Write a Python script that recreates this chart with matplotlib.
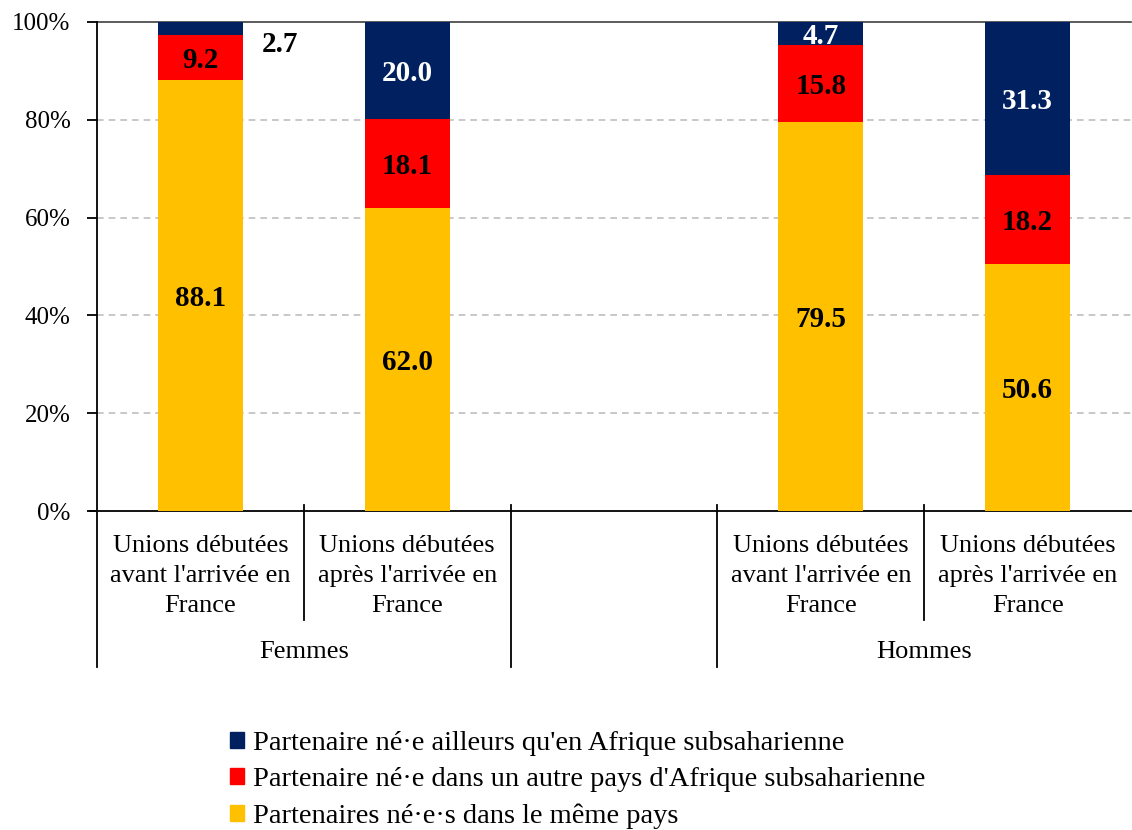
import matplotlib
matplotlib.use("Agg")
import matplotlib.pyplot as plt
from matplotlib.patches import Patch
import matplotlib.transforms as mtransforms

plt.rcParams['font.family'] = ['Liberation Serif', 'DejaVu Serif']

categories = ["Unions débutées\navant l'arrivée en\nFrance",
              "Unions débutées\naprès l'arrivée en\nFrance",
              "",
              "Unions débutées\navant l'arrivée en\nFrance",
              "Unions débutées\naprès l'arrivée en\nFrance"]
groups = ["Femmes", "Hommes"]
same_country = [88.1, 62.0, None, 79.5, 50.6]
other_africa = [9.2, 18.1, None, 15.8, 18.2]
elsewhere = [2.7, 20.0, None, 4.7, 31.3]
series_names = ["Partenaire né·e ailleurs qu'en Afrique subsaharienne",
                "Partenaire né·e dans un autre pays d'Afrique subsaharienne",
                "Partenaires né·e·s dans le même pays"]
yticks = [0, 20, 40, 60, 80, 100]

c_yellow = "#FFC000"
c_red = "#FF0000"
c_navy = "#002060"

W, H = 1132, 830
fig = plt.figure(figsize=(W / 100, H / 100), dpi=100)
ax = fig.add_axes([97 / W, (H - 511) / H, (1131 - 97) / W, (511 - 22) / H])

bw = 0.41
lab_fs = 21
va = 'center_baseline'
for i in range(len(categories)):
    if same_country[i] is None:
        continue
    a, b, c = same_country[i], other_africa[i], elsewhere[i]
    ax.bar(i, a, bw, color=c_yellow, zorder=3)
    ax.bar(i, b, bw, bottom=a, color=c_red, zorder=3)
    ax.bar(i, c, bw, bottom=a + b, color=c_navy, zorder=3)
    ax.text(i, a / 2, f"{a:.1f}", ha='center', va=va, fontsize=lab_fs,
            fontweight='bold', color='black', zorder=4)
    ax.text(i, a + b / 2, f"{b:.1f}", ha='center', va=va, fontsize=lab_fs,
            fontweight='bold', color='black', zorder=4)
    if c < 4:
        ax.text(i + 0.385, 96.0, f"{c:.1f}", ha='center', va=va, fontsize=lab_fs,
                fontweight='bold', color='black', zorder=4)
    else:
        ax.text(i, a + b + c / 2, f"{c:.1f}", ha='center', va=va, fontsize=lab_fs,
                fontweight='bold', color='white', zorder=4)

ax.set_xlim(-0.5, len(categories) - 0.5)
ax.set_ylim(0, 100)
ax.set_yticks(yticks)
ax.set_yticklabels([f"{t}%" for t in yticks], fontsize=18)
for t in yticks[1:-1]:
    ax.axhline(t, color='#BFBFBF', lw=1.2, ls=(0, (4, 3)), zorder=1)
ax.axhline(100, color='#404040', lw=1.2, zorder=2, clip_on=False)

for s in ['top', 'right']:
    ax.spines[s].set_visible(False)
ax.spines['left'].set_linewidth(1.3)
ax.spines['bottom'].set_linewidth(1.3)
ax.tick_params(axis='y', direction='out', length=7, width=1.3, pad=12)
ax.set_xticks([])

trans = mtransforms.blended_transform_factory(ax.transData, ax.transAxes)
ax_h = 511 - 22
def ay(px):
    return (511 - px) / ax_h

# separators
ax.plot([-0.5, -0.5], [ay(511), ay(667)], color='black', lw=1.3, transform=trans, clip_on=False)
for x in [0.5, 3.5]:
    ax.plot([x, x], [ay(505), ay(620)], color='black', lw=1.3, transform=trans, clip_on=False)
for x in [1.5, 2.5]:
    ax.plot([x, x], [ay(505), ay(667)], color='black', lw=1.3, transform=trans, clip_on=False)
ax.plot([-0.535, -0.5], [0, 0], color='black', lw=1.3, transform=trans, clip_on=False)

for i, lab in enumerate(categories):
    if lab:
        ax.text(i, ay(576), lab, ha='center', va='center', fontsize=19,
                linespacing=1.47, transform=trans)
ax.text(0.5, ay(652), groups[0], ha='center', va='center', fontsize=19, transform=trans)
ax.text(3.5, ay(652), groups[1], ha='center', va='center', fontsize=19, transform=trans)

handles = [Patch(color=c_navy), Patch(color=c_red), Patch(color=c_yellow)]
fig.legend(handles, series_names, loc='upper left', bbox_to_anchor=(230 / W, 1 - 731 / H),
           frameon=False, fontsize=20.5, handlelength=0.5, handleheight=0.5,
           handletextpad=0.3, labelspacing=0.4, borderpad=0, borderaxespad=0)

fig.savefig("out.png", dpi=100)
